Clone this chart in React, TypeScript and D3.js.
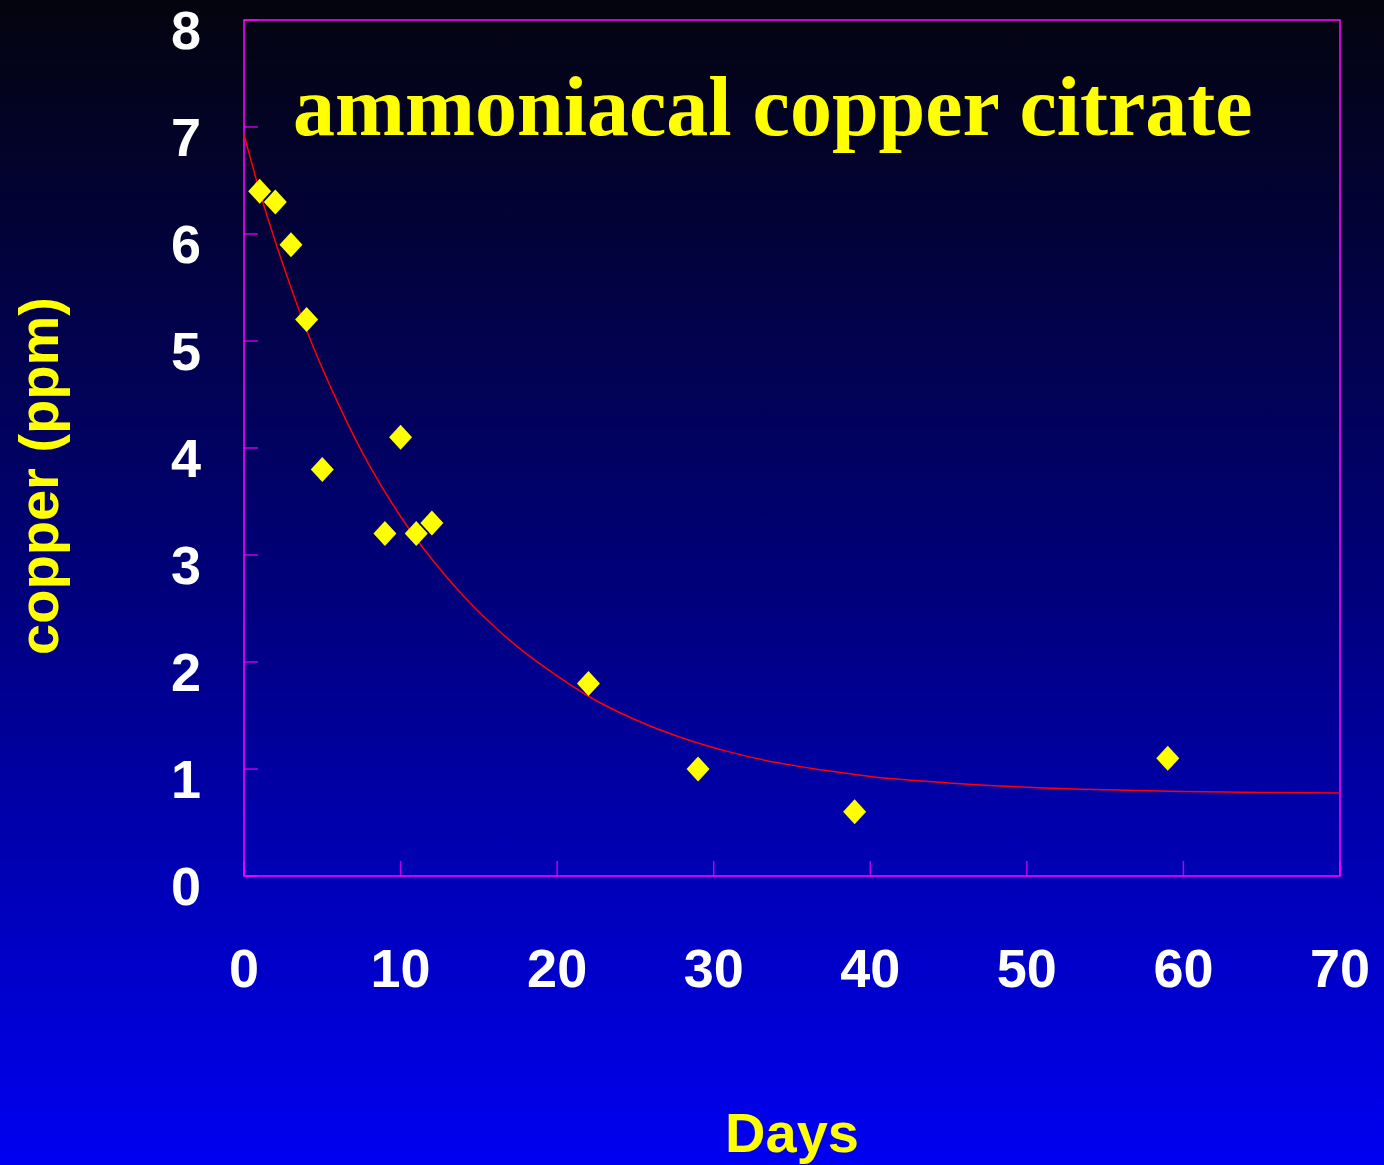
import React from "react";
import * as d3 from "d3";

const days = [1, 2, 3, 4, 5, 9, 10, 11, 12, 22, 29, 39, 59];
const copper = [6.4, 6.3, 5.9, 5.2, 3.8, 3.2, 4.1, 3.2, 3.3, 1.8, 1.0, 0.6, 1.1];

const fitDays = [0, 1, 2, 3, 4, 6, 8, 10, 12, 14, 16, 18, 20, 22, 25, 28, 31, 34, 37, 40, 45, 50, 55, 60, 65, 70];
const fitCopper = [6.93, 6.4, 5.93, 5.5, 5.1, 4.42, 3.84, 3.36, 2.96, 2.62, 2.33, 2.08, 1.87, 1.68, 1.46, 1.29, 1.16, 1.06, 0.99, 0.93, 0.87, 0.83, 0.805, 0.79, 0.78, 0.775];

const xTicks = [0, 10, 20, 30, 40, 50, 60, 70];
const yTicks = [0, 1, 2, 3, 4, 5, 6, 7, 8];

const W = 1384;
const H = 1165;
const left = 244, right = 1340, top = 20, bottom = 876;

export default function App() {
  const x = d3.scaleLinear().domain([0, 70]).range([left, right]);
  const y = d3.scaleLinear().domain([0, 8]).range([bottom, top]);
  const line = d3
    .line<number>()
    .x((_, i) => x(fitDays[i]))
    .y((d) => y(d))
    .curve(d3.curveMonotoneX);
  const diamond = (cx: number, cy: number) =>
    `M${cx},${cy - 12.5}L${cx + 11.5},${cy}L${cx},${cy + 12.5}L${cx - 11.5},${cy}Z`;
  const sans = "'Liberation Sans', Arial, sans-serif";
  return (
    <svg
      width={W}
      height={H}
      style={{ position: "absolute", left: 0, top: 0, display: "block" }}
    >
      <defs>
        <linearGradient id="bg" x1="0" y1="0" x2="0" y2="1">
          <stop offset="0" stopColor="#04040e" />
          <stop offset="0.5" stopColor="#00007a" />
          <stop offset="1" stopColor="#0000f2" />
        </linearGradient>
      </defs>
      <rect x={0} y={0} width={W} height={H} fill="url(#bg)" />
      {yTicks.map((t) => (
        <line key={"yt" + t} x1={left} x2={left + 14} y1={y(t)} y2={y(t)} stroke="#c000e0" strokeWidth={1.5} />
      ))}
      {xTicks.map((t) => (
        <line key={"xt" + t} x1={x(t)} x2={x(t)} y1={bottom} y2={bottom - 15} stroke="#c000e0" strokeWidth={1.5} />
      ))}
      <rect x={left} y={top} width={right - left} height={bottom - top} fill="none" stroke="#ff00ff" strokeWidth={1.6} />
      <path d={line(fitCopper) || ""} fill="none" stroke="#ff0000" strokeWidth={1.5} />
      {days.map((d, i) => (
        <path key={"p" + i} d={diamond(x(d), y(copper[i]))} fill="#ffff00" />
      ))}
      {yTicks.map((t) => (
        <text key={"yl" + t} x={186} y={y(t) + 29} textAnchor="middle" fill="#ffffff" fontFamily={sans} fontWeight="bold" fontSize={54}>
          {t}
        </text>
      ))}
      {xTicks.map((t) => (
        <text key={"xl" + t} x={x(t)} y={987} textAnchor="middle" fill="#ffffff" fontFamily={sans} fontWeight="bold" fontSize={54}>
          {t}
        </text>
      ))}
      <text x={293} y={135} fill="#ffff00" fontFamily="'Liberation Serif', 'Times New Roman', serif" fontWeight="bold" fontSize={84}>
        ammoniacal copper citrate
      </text>
      <text x={792} y={1152} textAnchor="middle" fill="#ffff00" fontFamily={sans} fontWeight="bold" fontSize={56}>
        Days
      </text>
      <text
        transform="translate(58,476) rotate(-90)"
        textAnchor="middle"
        fill="#ffff00"
        fontFamily={sans}
        fontWeight="bold"
        fontSize={56}
      >
        copper (ppm)
      </text>
    </svg>
  );
}
